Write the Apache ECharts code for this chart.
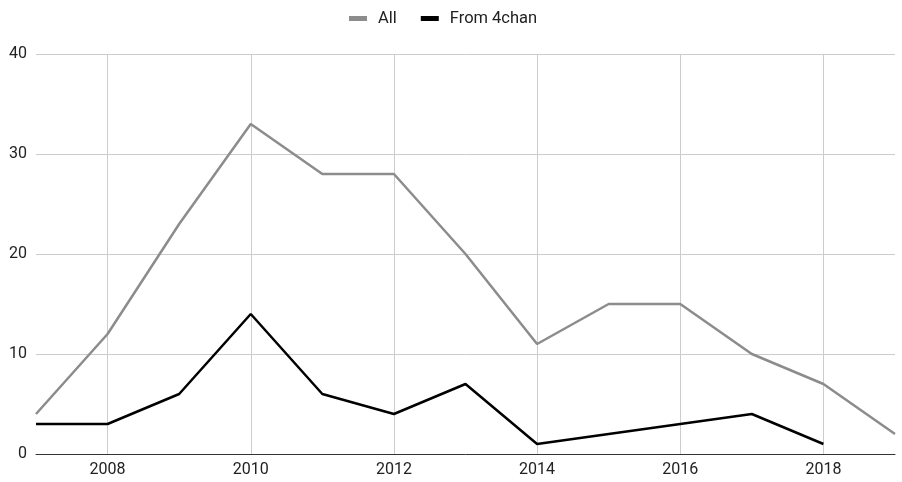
<!DOCTYPE html>
<html><head><meta charset="utf-8">
<script src="https://cdn.jsdelivr.net/npm/echarts@6/dist/echarts.min.js"></script>
<style>html,body{margin:0;padding:0;background:#fff}#c{width:902px;height:482px}</style>
</head><body><div id="c"></div>
<script>
const years = ['2007','2008','2009','2010','2011','2012','2013','2014','2015','2016','2017','2018','2019'];
const allValues = [4, 12, 23, 33, 28, 28, 20, 11, 15, 15, 10, 7, 2];
const from4chanValues = [3, 3, 6, 14, 6, 4, 7, 1, 2, 3, 4, 1, null];
const yTicks = [0, 10, 20, 30, 40];

const chart = echarts.init(document.getElementById('c'));
const evenYear = (i, v) => parseInt(v) % 2 === 0;
chart.setOption({
  animation: false,
  textStyle: { fontFamily: 'Roboto, Arial, sans-serif' },
  legend: {
    top: 5, left: 344,
    itemWidth: 18, itemHeight: 5, itemGap: 24,
    icon: 'rect',
    textStyle: { fontSize: 16.5, color: '#222', padding: [0, 0, 0, 6] },
    data: ['All', 'From 4chan']
  },
  grid: { left: 36, right: 7, top: 54, bottom: 28, containLabel: false },
  xAxis: {
    type: 'category', data: years, boundaryGap: false,
    axisLine: { lineStyle: { color: '#333', width: 1 } },
    axisTick: { show: false },
    axisLabel: { interval: evenYear, color: '#222', fontSize: 16, margin: 8 },
    splitLine: { show: true, interval: evenYear, lineStyle: { color: '#ccc' } }
  },
  yAxis: {
    type: 'value', min: yTicks[0], max: yTicks[yTicks.length-1], interval: 10,
    axisLine: { show: false }, axisTick: { show: false },
    axisLabel: { color: '#222', fontSize: 16, margin: 9 },
    splitLine: { lineStyle: { color: '#ccc' } }
  },
  series: [
    { name: 'All', type: 'line', data: allValues, symbol: 'none',
      itemStyle: { color: '#8c8c8c' }, lineStyle: { color: '#8c8c8c', width: 2.5 } },
    { name: 'From 4chan', type: 'line', data: from4chanValues, symbol: 'none',
      itemStyle: { color: '#000' }, lineStyle: { color: '#000', width: 2.5 } }
  ]
});
</script></body></html>
